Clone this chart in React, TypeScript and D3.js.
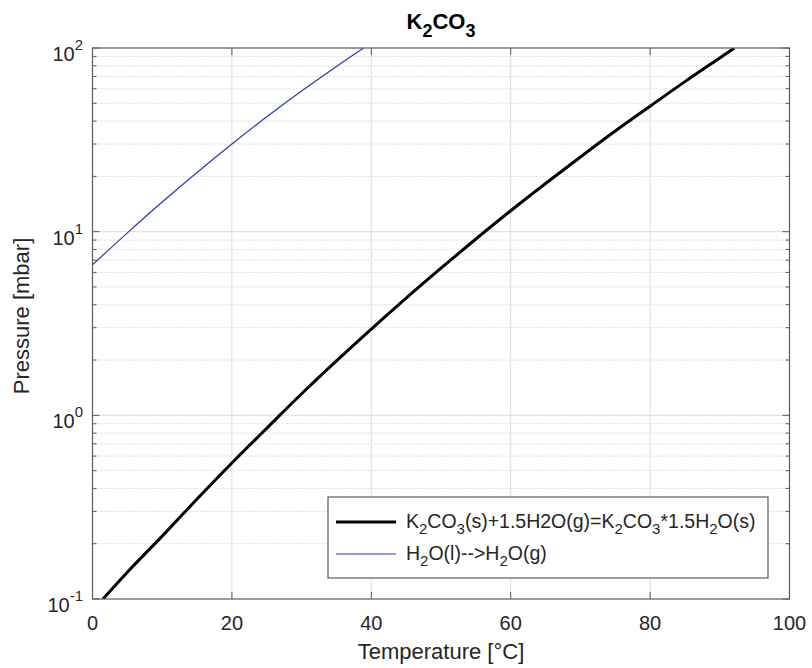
import React from "react";
import * as d3 from "d3";

const xTicks = [0, 20, 40, 60, 80, 100];
const yMajor = [0.1, 1, 10, 100];
const yExponents = ["-1", "0", "1", "2"];

const saltT = [1.5, 5, 10, 15, 20, 25, 30, 35, 40, 45, 50, 55, 60, 65, 70, 75, 80, 85, 90, 92.1];
const saltP = [0.1, 0.14, 0.22, 0.35, 0.55, 0.85, 1.31, 1.98, 2.95, 4.35, 6.33, 9.12, 13.0, 18.3, 25.5, 35.3, 48.2, 65.6, 88.3, 100];

const waterT = [0, 5, 10, 15, 20, 25, 30, 35, 38.9];
const waterP = [6.6, 9.85, 14.5, 21.0, 30.0, 42.2, 58.3, 79.4, 100];

const L = 92.5, R = 789.5, T = 48, B = 599;
const FONT = "'Liberation Sans', Arial, Helvetica, sans-serif";
const TXT = "#262626";
const AX = "#5a5a5a";

export default function App() {
  const x = d3.scaleLinear().domain([0, 100]).range([L, R]);
  const y = d3.scaleLog().domain([0.1, 100]).range([B, T]);
  const yMinor: number[] = [];
  [-1, 0, 1].forEach((d) => {
    for (let m = 2; m <= 9; m++) yMinor.push(m * Math.pow(10, d));
  });
  const line = d3
    .line<[number, number]>()
    .x((d) => x(d[0]))
    .y((d) => y(d[1]))
    .curve(d3.curveCatmullRom);
  const saltPath = line(saltT.map((t, i) => [t, saltP[i]] as [number, number])) || "";
  const waterPath = line(waterT.map((t, i) => [t, waterP[i]] as [number, number])) || "";

  const lgL = 328, lgR = 768, lgT = 497, lgB = 578;
  const row1 = 522, row2 = 554;

  return (
    <svg width={812} height={668} style={{ position: "absolute", left: 0, top: 0, background: "#fff" }} fontFamily={FONT}>
      <rect x={0} y={0} width={812} height={668} fill="#fff" />
      <defs>
        <clipPath id="clip">
          <rect x={L} y={T} width={R - L} height={B - T} />
        </clipPath>
      </defs>
      {/* minor grid */}
      {yMinor.map((v) => (
        <line key={"mg" + v} x1={L} x2={R} y1={y(v)} y2={y(v)} stroke="#c4c4c4" strokeWidth={1} strokeDasharray="1,2" />
      ))}
      {/* major grid */}
      {xTicks.slice(1, -1).map((v) => (
        <line key={"gx" + v} x1={x(v)} x2={x(v)} y1={T} y2={B} stroke="#dcdcdc" strokeWidth={1} />
      ))}
      {yMajor.slice(1, -1).map((v) => (
        <line key={"gy" + v} x1={L} x2={R} y1={y(v)} y2={y(v)} stroke="#dcdcdc" strokeWidth={1} />
      ))}
      {/* curves */}
      <g clipPath="url(#clip)">
        <path d={waterPath} fill="none" stroke="#2a36c4" strokeWidth={1.2} />
        <path d={saltPath} fill="none" stroke="#000" strokeWidth={3} />
      </g>
      {/* axes box */}
      <rect x={L} y={T} width={R - L} height={B - T} fill="none" stroke={AX} strokeWidth={1.2} />
      {/* x ticks */}
      {xTicks.map((v) => (
        <g key={"xt" + v}>
          <line x1={x(v)} x2={x(v)} y1={B} y2={B - 7} stroke={AX} />
          <line x1={x(v)} x2={x(v)} y1={T} y2={T + 7} stroke={AX} />
          <text x={x(v)} y={630} textAnchor="middle" fontSize={20} fill={TXT}>{v}</text>
        </g>
      ))}
      {/* y ticks */}
      {yMajor.map((v, i) => (
        <g key={"yt" + v}>
          <line x1={L} x2={L + 7} y1={y(v)} y2={y(v)} stroke={AX} />
          <line x1={R} x2={R - 7} y1={y(v)} y2={y(v)} stroke={AX} />
          <text x={83} y={y(v) + 13} textAnchor="end" fontSize={20} fill={TXT}>
            10<tspan dy={-11} fontSize={15}>{yExponents[i]}</tspan>
          </text>
        </g>
      ))}
      {yMinor.map((v) => (
        <g key={"ymt" + v}>
          <line x1={L} x2={L + 4} y1={y(v)} y2={y(v)} stroke={AX} />
          <line x1={R} x2={R - 4} y1={y(v)} y2={y(v)} stroke={AX} />
        </g>
      ))}
      {/* labels */}
      <text x={(L + R) / 2} y={659} textAnchor="middle" fontSize={22} fill={TXT}>Temperature [°C]</text>
      <text transform={`translate(29,316) rotate(-90)`} textAnchor="middle" fontSize={22} fill={TXT}>Pressure [mbar]</text>
      <text x={(L + R) / 2} y={29} textAnchor="middle" fontSize={22} fontWeight="bold" fill="#000">
        K<tspan dy={8} fontSize={18}>2</tspan><tspan dy={-8}>CO</tspan><tspan dy={8} fontSize={18}>3</tspan>
      </text>
      {/* legend */}
      <rect x={lgL} y={lgT} width={lgR - lgL} height={lgB - lgT} fill="#fff" stroke={AX} strokeWidth={1.2} />
      <line x1={336} x2={396} y1={row1} y2={row1} stroke="#000" strokeWidth={3} />
      <line x1={336} x2={396} y1={row2} y2={row2} stroke="#2a36c4" strokeWidth={1.2} />
      <text x={406} y={row1 + 6} fontSize={19.5} fill={TXT}>
        K<tspan dy={6} fontSize={15}>2</tspan><tspan dy={-6}>CO</tspan><tspan dy={6} fontSize={15}>3</tspan><tspan dy={-6}>(s)+1.5H2O(g)=K</tspan><tspan dy={6} fontSize={15}>2</tspan><tspan dy={-6}>CO</tspan><tspan dy={6} fontSize={15}>3</tspan><tspan dy={-6}>*1.5H</tspan><tspan dy={6} fontSize={15}>2</tspan><tspan dy={-6}>O(s)</tspan>
      </text>
      <text x={406} y={row2 + 6} fontSize={19.5} fill={TXT}>
        H<tspan dy={6} fontSize={15}>2</tspan><tspan dy={-6}>O(l)--&gt;H</tspan><tspan dy={6} fontSize={15}>2</tspan><tspan dy={-6}>O(g)</tspan>
      </text>
    </svg>
  );
}
